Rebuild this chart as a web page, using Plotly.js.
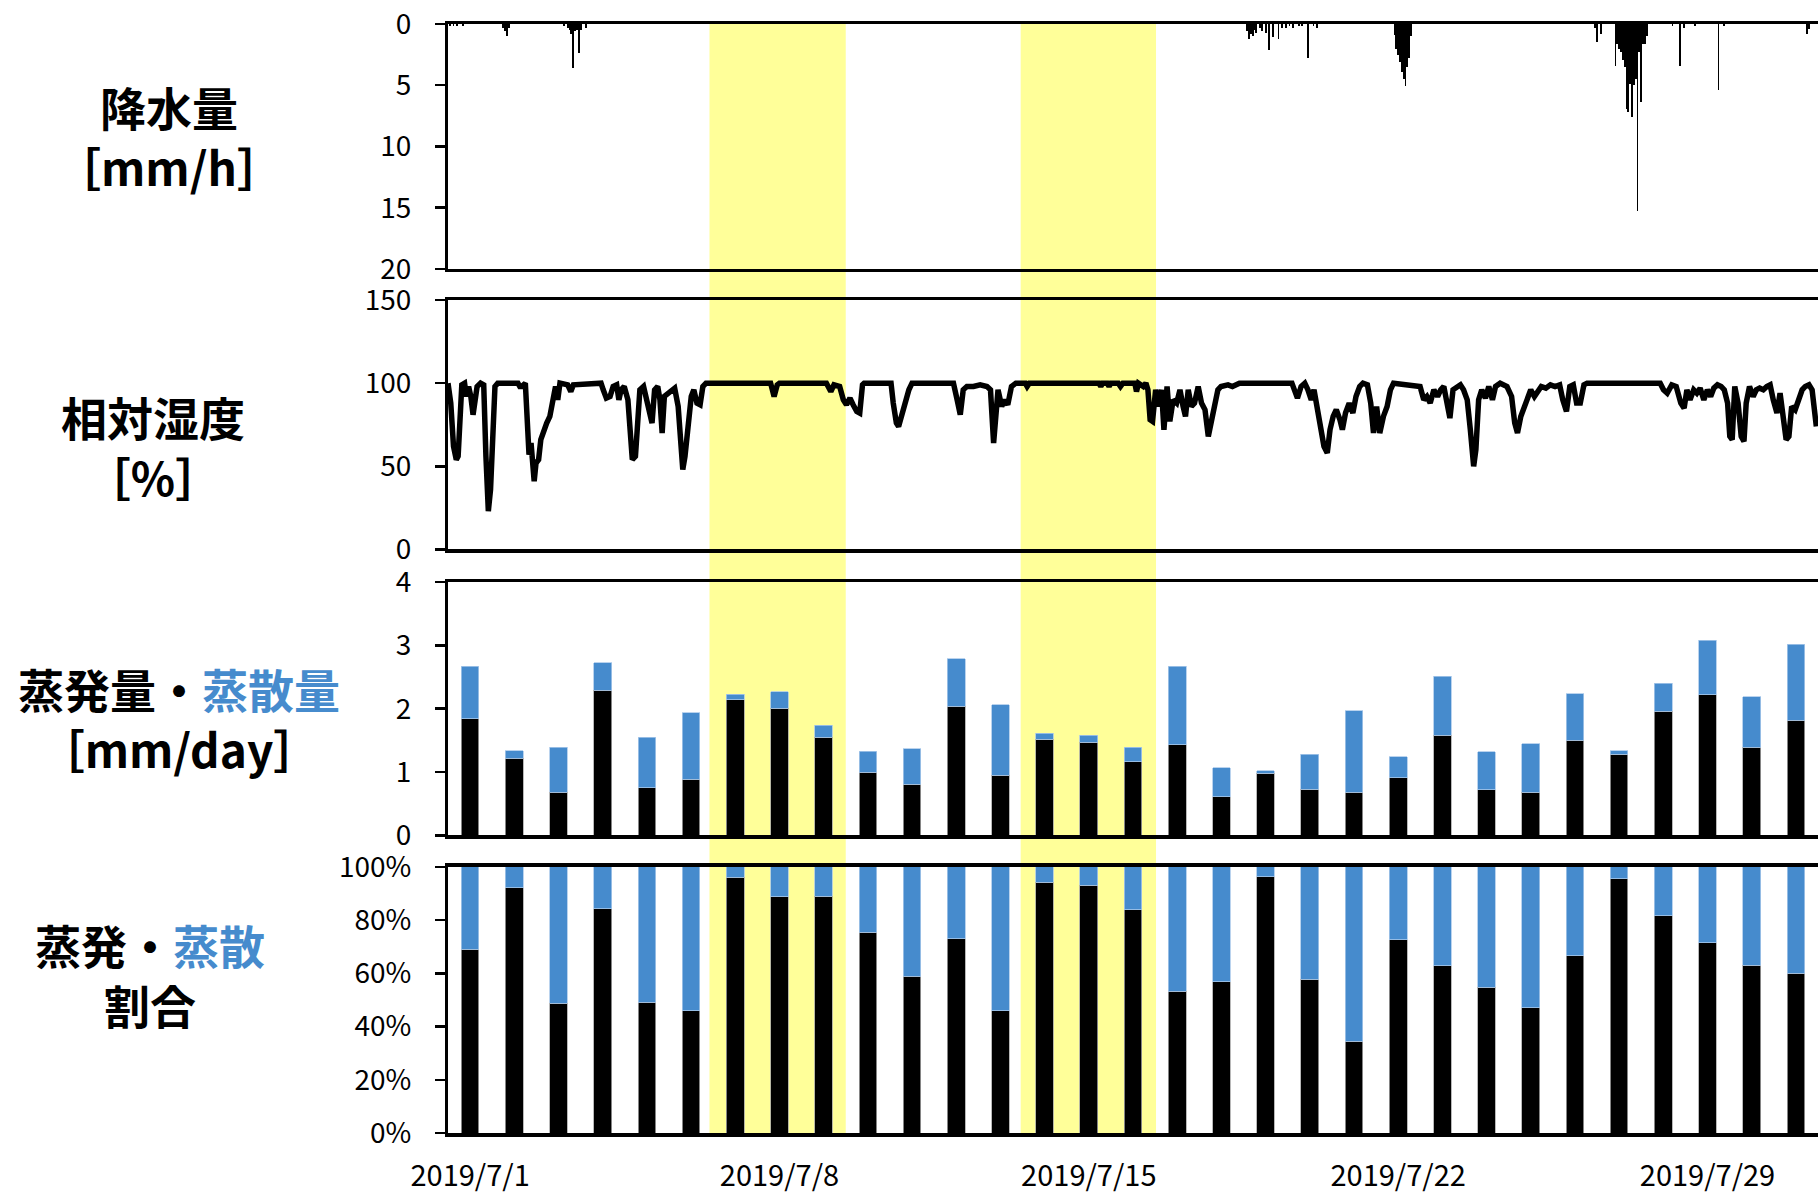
<!DOCTYPE html>
<html>
<head>
<meta charset="utf-8">
<script src="https://cdn.plot.ly/plotly-3.0.1.min.js"></script>
<style>
  html, body { margin: 0; padding: 0; background: #ffffff; }
  #chart { width: 1818px; height: 1196px; }
</style>
</head>
<body>
<div id="chart"></div>
<script>
// ---------------- DATA ----------------
// Daily dates for the bar panels
const days = ['2019-07-01','2019-07-02','2019-07-03','2019-07-04','2019-07-05','2019-07-06','2019-07-07','2019-07-08','2019-07-09','2019-07-10','2019-07-11','2019-07-12','2019-07-13','2019-07-14','2019-07-15','2019-07-16','2019-07-17','2019-07-18','2019-07-19','2019-07-20','2019-07-21','2019-07-22','2019-07-23','2019-07-24','2019-07-25','2019-07-26','2019-07-27','2019-07-28','2019-07-29','2019-07-30','2019-07-31'];

// Evaporation (black) and transpiration (blue) [mm/day]
const evaporation   = [1.84,1.22,0.68,2.29,0.75,0.89,2.14,2.01,1.55,1.00,0.81,2.04,0.95,1.52,1.47,1.16,1.43,0.61,0.98,0.73,0.68,0.91,1.58,0.72,0.68,1.50,1.28,1.96,2.22,1.39,1.82];
const transpiration = [0.83,0.12,0.71,0.44,0.80,1.05,0.09,0.26,0.19,0.33,0.56,0.75,1.11,0.09,0.11,0.23,1.24,0.46,0.04,0.55,1.29,0.33,0.93,0.60,0.77,0.74,0.06,0.44,0.86,0.80,1.20];

// Share of evaporation / transpiration [%]
const evapShare  = [69.1,92.2,48.7,84.2,49.1,46.0,96.1,88.8,89.0,75.5,58.9,73.1,46.0,94.2,93.1,84.0,53.2,56.8,96.3,57.7,34.5,72.7,62.9,54.8,47.0,66.7,95.6,81.7,71.6,63.0,60.1];
const transShare = [30.9,7.8,51.3,15.8,50.9,54.0,3.9,11.2,11.0,24.5,41.1,26.9,54.0,5.8,6.9,16.0,46.8,43.2,3.7,42.3,65.5,27.3,37.1,45.2,53.0,33.3,4.4,18.3,28.4,37.0,39.9];

// Hourly precipitation (hours since 2019-07-01 00:00, only non-zero hours) [mm/h]
const precipHour  = [1,3,5,8,30,31,32,33,63,65,66,67,68,69,70,71,72,75,
  434,435,436,437,438,439,441,442,444,446,448,451,453,455,457,459,462,464,467,470,472,
  514,515,516,517,518,519,520,521,522,523,
  623,624,626,
  634,635,636,637,638,639,640,641,642,643,644,645,646,647,648,649,650,651,
  665,669,671,677,690,693,738,739];
const precipValue = [0.2,0.2,0.2,0.2,0.3,0.6,1.0,0.3,0.2,0.3,0.5,0.8,3.6,0.6,0.5,2.4,0.5,0.3,
  0.6,1.2,0.8,1.0,0.5,0.7,0.3,0.6,0.7,2.1,1.05,1.2,0.3,0.3,0.2,0.3,0.2,0.2,2.8,0.2,0.3,
  0.9,2.0,2.5,3.1,3.9,4.5,5.1,3.5,2.8,1.0,
  0.3,1.45,0.8,
  3.4,1.6,2.0,2.3,2.9,3.5,6.9,7.2,4.9,7.6,5.0,4.5,15.3,2.3,6.4,1.6,1.6,1.0,
  0.2,3.4,0.3,0.2,5.4,0.2,0.8,0.4];

// Relative humidity (hours since 2019-07-01 00:00) [%]
const rhHour = [0,1.5,3,4.5,5.5,6.5,7.5,9,10,11.2,12.4,13.6,14.8,15.8,17.7,19.4,20.6,21.9,23.1,24.3,25.5,27,38,39,40,42,43.2,44,45.1,46,46.8,47.8,49.2,50.4,52.1,53.6,55.3,57,58.4,59.6,60.8,65,66.7,68.1,83.1,84.3,86,88,89.7,91.6,92.8,94,95.7,97.7,98.9,100.1,101.8,103,104.2,106.2,107.8,109.3,110.8,112.2,113.9,115.1,116.3,117.5,119.5,121.4,123.1,125,126.3,127.5,128.7,130.4,132.1,133.5,135.2,136.9,138.4,140.1,175.2,177.1,178.8,180,205.5,207.9,209.6,212.7,214.7,216.4,218.3,220,222,223.6,225.1,226,240.6,241.8,243.5,244.7,246.6,248.4,250.3,252,274.5,276.5,278.2,279.8,281.8,285.4,289,292.7,294.6,296.3,297.5,298.7,300.7,302.4,304,306,308.4,313.5,314.5,315.7,353.5,354.5,355.5,358,359,360,364,365.2,366.5,373,373.9,375,377.6,379,380.1,381.3,382.6,384.3,385.8,387.5,388.8,390.5,392,393.8,395.7,397.5,399.2,400.5,402,403.7,405.4,407.4,409.2,411.1,412.9,414.4,416.1,418.1,419.8,423.6,426,429.8,458.3,459.6,461.3,463.3,465.3,467,468.8,470.3,472,473.7,475.7,477.5,479,480.7,482.4,484.4,485.7,487.4,489.4,491.4,493.1,495.1,496.9,499.3,501.1,502.6,504.3,506,508,510,511.8,513.5,522.9,527.9,529.9,531.6,533.4,535.4,537.4,539.1,540.8,542.3,544.1,545.8,547.8,549.8,551.5,553.5,555.2,557,558.2,559.7,561.4,563.4,565.2,567.2,568.9,571.4,575.1,577.6,579.3,580.8,582.6,584.6,586.3,588,590,592,593.7,596.2,598.7,601.2,603.7,605.4,607.4,609.2,611.1,612.9,614.9,616.9,618.6,658.3,660.1,662.1,664.6,667,669.5,671.3,672.8,674.5,676.5,678.2,680,682,683.9,685.7,687.4,689.4,691.4,693.1,694.9,696.1,697.4,698.8,700.6,702.3,703.8,705,706.8,708.8,710.5,712.3,714.3,716.2,718,719.7,721.7,723.4,725.2,726.7,728.2,729.7,731.6,733.6,735.4,737.1,739.1,740.8,742.1,743.1];
const rhValue = [100,88,62,54,56,75,99,100,92,98,92,81,90,98,100,99,56,23,36,66,98,100,100,98,98,100,64,57,64,52,41,52,54,66,72,76,80,88,98,90,100,99,95,99,100,96,91,92,98,99,90,96,98,90,68,54,56,76,96,98,90,86,76,96,98,90,70,92,94,96,97,86,64,48,56,74,92,96,88,87,98,100,100,92,99,100,100,95,99,98,90,87,91,87,83,82,99,100,100,88,76,74,82,90,96,100,100,90,81,96,98,98,99,98,96,64,80,96,86,90,87,98,100,100,98,100,100,98,100,100,98,100,100,98,100,100,95,100,98,100,96,78,77,96,86,96,72,98,77,90,88,96,86,80,96,86,88,98,88,84,68,76,86,96,98,99,98,100,100,96,91,98,100,96,90,96,86,72,62,58,72,80,84,78,72,82,88,82,92,98,100,99,88,70,86,70,80,86,96,100,99,98,90,92,88,96,92,96,98,90,79,96,98,99,96,90,72,50,60,90,96,91,98,90,98,100,98,92,76,70,80,86,92,96,92,96,98,97,99,98,99,90,83,98,99,88,88,99,100,100,96,94,99,98,88,85,96,90,96,94,97,90,96,92,97,99,98,96,88,68,66,98,88,68,65,88,98,92,96,97,96,98,99,90,82,94,80,66,68,86,84,90,96,98,99,96,86,74];

// Highlighted periods (yellow bands)
const bandStart = ['2019-07-06 10:00','2019-07-13 11:00'];
const bandEnd   = ['2019-07-09 12:00','2019-07-16 12:30'];

// x tick labels
const xTickVals = ['2019-07-01','2019-07-08','2019-07-15','2019-07-22','2019-07-29'];

// ---------------- HELPERS ----------------
function hourToDate(h) {
  const d = new Date(Date.UTC(2019, 6, 1, 0, 0, 0) + Math.round(h * 3600000));
  return d.toISOString().slice(0, 19).replace('T', ' ');
}

const FONT = '"Noto Sans CJK JP", "Noto Sans", sans-serif';
const BLUE = '#468bcd';
const DAY = 86400000;

const traces = [
  {
    type: 'bar', xaxis: 'x', yaxis: 'y',
    x: precipHour.map(hourToDate), y: precipValue,
    width: 3600000,
    marker: { color: '#000000', line: { width: 0 } },
    hoverinfo: 'x+y', showlegend: false
  },
  {
    type: 'scatter', mode: 'lines', xaxis: 'x2', yaxis: 'y2',
    x: rhHour.map(hourToDate), y: rhValue,
    line: { color: '#000000', width: 5.5, shape: 'linear' },
    showlegend: false
  },
  {
    type: 'bar', xaxis: 'x3', yaxis: 'y3', x: days, y: evaporation,
    width: 0.4 * DAY,
    marker: { color: '#000000', line: { color: '#a6a6a6', width: 0.8 } },
    showlegend: false
  },
  {
    type: 'bar', xaxis: 'x3', yaxis: 'y3', x: days, y: transpiration,
    width: 0.4 * DAY,
    marker: { color: BLUE, line: { color: '#a9c8ea', width: 0.8 } },
    showlegend: false
  },
  {
    type: 'bar', xaxis: 'x4', yaxis: 'y4', x: days, y: evapShare,
    width: 0.4 * DAY,
    marker: { color: '#000000', line: { color: '#a6a6a6', width: 0.8 } },
    showlegend: false
  },
  {
    type: 'bar', xaxis: 'x4', yaxis: 'y4', x: days, y: transShare,
    width: 0.4 * DAY,
    marker: { color: BLUE, line: { color: '#a9c8ea', width: 0.8 } },
    showlegend: false
  }
];

const hourRange = ['2019-07-01 00:00', '2019-08-01 00:00'];
const dayRange  = ['2019-06-30 12:00', '2019-07-31 12:00'];

function xAx(range, anchor, showLabels) {
  return {
    type: 'date', range: range, anchor: anchor,
    showline: true, linecolor: '#000000', linewidth: 3.5, mirror: true,
    showgrid: false, zeroline: false,
    ticks: '', showticklabels: showLabels,
    tickvals: showLabels ? xTickVals : undefined,
    tickformat: '%Y/%-m/%-d',
    tickfont: { family: FONT, size: 29, color: '#000000' },
    ticklabelstandoff: 15,
    fixedrange: true
  };
}
function yAx(domain, range, dtick, anchor, suffix) {
  return {
    domain: domain, range: range, dtick: dtick, tick0: 0, anchor: anchor,
    showline: true, linecolor: '#000000', linewidth: 3,
    showgrid: false, zeroline: false,
    ticks: 'outside', ticklen: 10, tickwidth: 2.5, tickcolor: '#000000',
    ticksuffix: suffix || '',
    tickfont: { family: FONT, size: 28, color: '#000000' },
    ticklabelstandoff: 18,
    fixedrange: true
  };
}

const shapes = bandStart.map((s, i) => ({
  type: 'rect', xref: 'x4', yref: 'paper',
  x0: s, x1: bandEnd[i], y0: 0, y1: 1,
  fillcolor: '#ffff99', line: { width: 0 }, layer: 'below'
}));

function ann(text, cx, cy) {
  return {
    xref: 'paper', yref: 'paper',
    x: (cx - 447.5) / 1370.5, y: (1133 - cy) / 1109,
    xanchor: 'center', yanchor: 'middle',
    text: text, showarrow: false, align: 'center',
    font: { family: FONT, size: 46, color: '#000000' }
  };
}

const annotations = [
  ann('<b>降水量<br>［mm/h］</b>', 168, 136),
  ann('<b>相対湿度<br>［%］</b>', 152, 446),
  ann('<b>蒸発量・<span style="color:' + BLUE + '">蒸散量</span><br>［mm/day］</b>', 178, 718),
  ann('<b>蒸発・<span style="color:' + BLUE + '">蒸散</span><br>割合</b>', 149, 974)
];

const layout = {
  width: 1818, height: 1196,
  margin: { l: 447.5, r: 0, t: 24, b: 63 },
  paper_bgcolor: '#ffffff', plot_bgcolor: 'rgba(0,0,0,0)',
  barmode: 'stack', bargap: 0,
  showlegend: false,
  font: { family: FONT, color: '#000000' },
  xaxis:  xAx(hourRange, 'y', false),
  xaxis2: xAx(hourRange, 'y2', false),
  xaxis3: xAx(dayRange, 'y3', false),
  xaxis4: xAx(dayRange, 'y4', true),
  yaxis:  yAx([0.7791, 1], [20, 0], 5, 'x'),
  yaxis2: yAx([0.5262, 0.7511], [0, 150], 50, 'x2'),
  yaxis3: yAx([0.2683, 0.4968], [0, 4], 1, 'x3'),
  yaxis4: yAx([0, 0.2399], [0, 100], 20, 'x4', '%'),
  shapes: shapes,
  annotations: annotations
};

Plotly.newPlot('chart', traces, layout, { displayModeBar: false, staticPlot: true });
</script>
</body>
</html>
